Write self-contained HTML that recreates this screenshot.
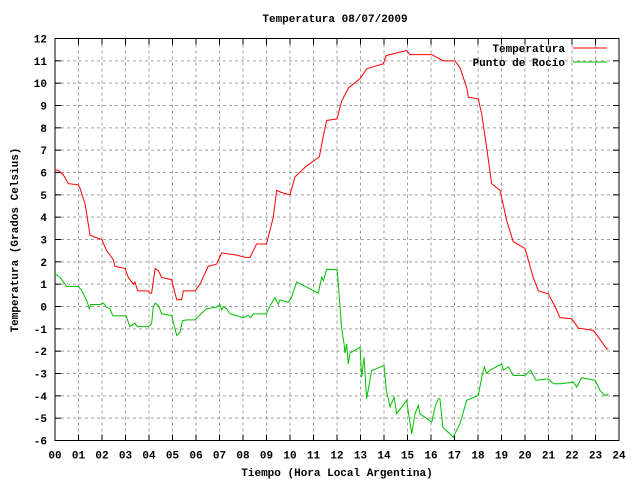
<!DOCTYPE html>
<html><head><meta charset="utf-8"><style>
body{margin:0;background:#fff}
svg{display:block}
text{font-family:"Liberation Mono","DejaVu Sans Mono",monospace;font-size:11px;font-weight:bold;fill:#000}
</style></head><body>
<svg id="c" width="640" height="480"></svg>
<script>
const hourTicks=["00","01","02","03","04","05","06","07","08","09","10","11","12","13","14","15","16","17","18","19","20","21","22","23","24"];
const yTicks=[-6,-5,-4,-3,-2,-1,0,1,2,3,4,5,6,7,8,9,10,11,12];
const tempHours=[0,0.14,0.35,0.57,0.99,1.06,1.28,1.49,1.7,1.99,2.2,2.48,2.55,2.98,3.12,3.33,3.4,3.52,3.97,4.04,4.11,4.26,4.4,4.54,4.96,5.18,5.39,5.46,5.96,6.17,6.52,6.88,7.09,7.73,8.09,8.3,8.58,9.0,9.29,9.43,9.65,10.0,10.21,10.71,11.25,11.42,11.56,12.0,12.2,12.5,12.98,13.26,13.97,14.1,14.96,15.1,16.03,16.52,17.02,17.23,17.52,17.59,18.01,18.16,18.37,18.58,18.94,19.22,19.5,20.0,20.35,20.57,20.99,21.28,21.49,21.99,22.27,22.91,23.12,23.48,23.55];
const tempValues=[6.1,6.1,5.9,5.5,5.45,5.3,4.6,3.2,3.1,3.0,2.5,2.1,1.8,1.7,1.3,1.0,1.1,0.7,0.7,0.6,0.6,1.7,1.6,1.3,1.2,0.3,0.3,0.7,0.7,1.0,1.8,1.9,2.4,2.3,2.2,2.2,2.8,2.8,4.0,5.2,5.1,5.0,5.8,6.3,6.7,7.65,8.33,8.4,9.2,9.8,10.2,10.64,10.87,11.24,11.46,11.28,11.28,11.0,11.0,10.7,9.8,9.37,9.3,8.6,7.1,5.5,5.2,3.85,2.9,2.6,1.3,0.7,0.57,0.0,-0.5,-0.55,-0.97,-1.07,-1.37,-1.9,-1.9];
const dewHours=[0,0.21,0.35,0.5,0.99,1.13,1.35,1.46,1.52,1.91,2.06,2.2,2.34,2.41,2.48,3.02,3.19,3.4,3.5,3.97,4.11,4.18,4.26,4.4,4.54,4.96,5.18,5.32,5.43,5.6,5.96,6.24,6.45,6.88,7.02,7.09,7.16,7.3,7.45,8.01,8.23,8.33,8.44,9.0,9.15,9.36,9.5,9.57,9.93,10.07,10.28,11.2,11.35,11.42,11.56,12.0,12.06,12.13,12.2,12.3,12.34,12.41,12.48,12.55,12.98,13.05,13.15,13.26,13.4,13.47,14.0,14.1,14.26,14.43,14.54,14.96,15.18,15.32,15.46,15.53,16.03,16.17,16.31,16.38,16.5,16.95,17.09,17.23,17.52,18.01,18.16,18.27,18.37,18.51,19.01,19.08,19.29,19.5,20.0,20.24,20.47,20.99,21.21,21.49,22.06,22.2,22.41,22.98,23.19,23.4,23.55];
const dewValues=[1.46,1.31,1.1,0.9,0.9,0.72,0.27,-0.1,0.09,0.09,0.15,-0.03,-0.1,-0.3,-0.42,-0.42,-0.9,-0.75,-0.9,-0.9,-0.78,-0.03,0.15,0.04,-0.33,-0.4,-1.3,-1.15,-0.63,-0.6,-0.6,-0.3,-0.1,-0.03,0.09,-0.15,0,-0.1,-0.33,-0.5,-0.4,-0.5,-0.33,-0.33,0.04,0.39,0.09,0.3,0.19,0.42,1.1,0.6,1.31,1.16,1.67,1.64,1.0,-0.03,-1.0,-1.67,-2.09,-1.67,-2.57,-2.09,-1.82,-3.16,-2.27,-4.13,-3.3,-2.87,-2.64,-3.76,-4.5,-4.06,-4.8,-4.2,-5.7,-4.8,-4.43,-4.8,-5.18,-4.5,-4.13,-4.13,-5.4,-5.85,-5.55,-5.25,-4.2,-3.99,-3.16,-2.7,-3.0,-2.85,-2.57,-2.85,-2.7,-3.09,-3.09,-2.85,-3.3,-3.24,-3.46,-3.46,-3.39,-3.61,-3.19,-3.3,-3.76,-3.99,-3.91];

const NS="http://www.w3.org/2000/svg";
const svg=document.getElementById('c');
const L=55,R=619,T=38.5,B=440.5;
const X=h=>L+(R-L)*h/24;
const Y=v=>B-(B-T)*(v+6)/18;
function mk(tag,attrs,parent){const e=document.createElementNS(NS,tag);for(const k in attrs)e.setAttribute(k,attrs[k]);(parent||svg).appendChild(e);return e;}

const grid=mk('g',{});


hourTicks.forEach((t,i)=>{
  const x=X(i);
  if(i>0&&i<24){const l=mk('line',{x1:x,x2:x,y1:T,y2:B,stroke:'#a0a0a0','stroke-dasharray':'3,3'},grid);
  }
  mk('line',{x1:x,x2:x,y1:B,y2:B-6,stroke:'#000'});
  mk('line',{x1:x,x2:x,y1:T,y2:T+6,stroke:'#000'});
  const tx=mk('text',{x:x,y:B+18,'text-anchor':'middle'});tx.textContent=t;
  
  
});
yTicks.forEach(v=>{
  const y=Y(v);
  if(v>-6&&v<12){const l=mk('line',{x1:L,x2:R,y1:y,y2:y,stroke:'#a0a0a0','stroke-dasharray':'3,3'},grid);
  }
  mk('line',{x1:L,x2:L+6,y1:y,y2:y,stroke:'#000'});
  mk('line',{x1:R,x2:R-6,y1:y,y2:y,stroke:'#000'});
  const tx=mk('text',{x:L-8,y:y+4,'text-anchor':'end'});tx.textContent=v;
  
  
});
const fr=mk('rect',{x:L,y:T,width:R-L,height:B-T,fill:'none',stroke:'#000'});



function series(hs,vs,color,name){
  const p=mk('polyline',{points:hs.map((h,i)=>X(h)+','+Y(vs[i])).join(' '),fill:'none',stroke:color,'stroke-width':1});
  
  
}
series(tempHours,tempValues,'#ff0000','temperature-line');
series(dewHours,dewValues,'#00c000','dew-point-line');

const t1=mk('text',{x:335,y:22,'text-anchor':'middle'});t1.textContent='Temperatura 08/07/2009';


const t2=mk('text',{x:337,y:476,'text-anchor':'middle'});t2.textContent='Tiempo (Hora Local Argentina)';


const t3=mk('text',{x:18,y:240,'text-anchor':'middle',transform:'rotate(-90 18 240)'});t3.textContent='Temperatura (Grados Celsius)';



const lg1=mk('text',{x:565,y:52,'text-anchor':'end'});lg1.textContent='Temperatura';


mk('line',{x1:573,x2:607,y1:48,y2:48,stroke:'#ff0000'});
const lg2=mk('text',{x:565,y:66,'text-anchor':'end'});lg2.textContent='Punto de Rocío';


mk('line',{x1:573,x2:607,y1:62,y2:62,stroke:'#00c000'});
</script>
</body></html>
